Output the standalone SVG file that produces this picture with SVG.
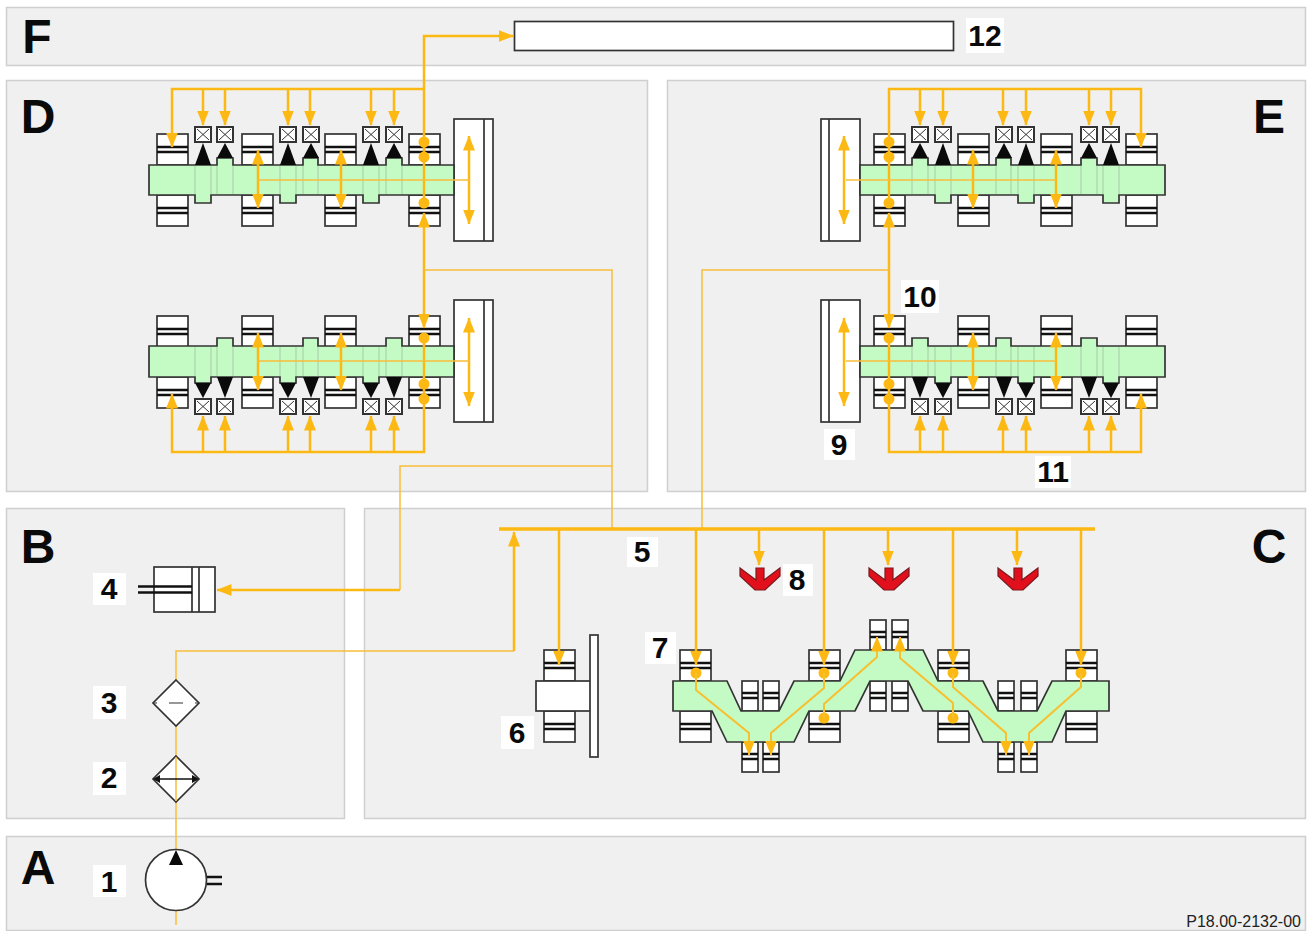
<svg xmlns="http://www.w3.org/2000/svg" width="1307" height="931" viewBox="0 0 1307 931">
<style>
.panel{fill:#f0f0f0;stroke:#cfcfcf;stroke-width:1.500}
.s{fill:#fff;stroke:#333;stroke-width:1.700}
.k{stroke:#111;stroke-width:2.500;fill:none}
.shaft{fill:#c4fbc4;stroke:#333;stroke-width:1.700}
.rib{fill:none;stroke:#a8cba8;stroke-width:1}
.tri{fill:#0a0a0a;stroke:none}
.y1{fill:none;stroke:#f7bd3a;stroke-width:1.500}
.y1b{fill:none;stroke:#f7c030;stroke-width:2}
.y2{fill:none;stroke:#fdb913;stroke-width:2.500}
.y3{fill:none;stroke:#fdb913;stroke-width:3.500}
.ya{marker-end:url(#ah)}
.yb{marker-start:url(#ah);marker-end:url(#ah)}
.dot{fill:#fdb913}
.red{fill:#e2101c;stroke:#7a1a1e;stroke-width:1.200}
.lb{fill:#fff}
text{font-family:"Liberation Sans",Arial,sans-serif;font-weight:700;fill:#0a0a0a;text-anchor:middle}
.n{font-size:30px}
.L{font-size:48px}
.c{font-size:16px;font-weight:400;text-anchor:end;fill:#222}
</style>
<defs>
<marker id="ah" markerUnits="userSpaceOnUse" markerWidth="17" markerHeight="14" refX="14.500" refY="7" orient="auto-start-reverse"><path d="M0 1L15 7L0 13Z" fill="#fdb913"/></marker>
<g id="bb"><rect class="s" width="31" height="31"/><path class="k" d="M0 13H31M0 18H31"/></g>
<g id="sb"><rect class="s" width="16" height="30"/><path class="k" d="M0 12H16M0 17H16"/></g>
<g id="box"><rect class="s" width="16" height="15" style="stroke-width:2"/><path d="M2 2L14 13M14 2L2 13" stroke="#333" stroke-width="1" fill="none"/></g>
<g id="tt"><path class="tri" d="M0 22L8 0L16 22Z"/></g>
<g id="ts"><path class="tri" d="M0 15L8 0L16 15Z"/></g>
<g id="tT"><path class="tri" d="M0 0L8 21L16 0Z"/></g>
<g id="tS"><path class="tri" d="M0 0L8 15L16 0Z"/></g>
<g id="red"><path class="red" d="M-20 568L-4 580V568H4V580L20 568V576L5 590H-5L-20 576Z"/></g>
</defs>
<rect width="1307" height="931" fill="#fff"/>
<g id="panels">
<rect class="panel" x="6.500" y="7.500" width="1299" height="58"/>
<rect class="panel" x="6.500" y="80.500" width="641" height="411"/>
<rect class="panel" x="667.500" y="80.500" width="638" height="411"/>
<rect class="panel" x="6.500" y="508.500" width="338" height="310"/>
<rect class="panel" x="364.500" y="508.500" width="941" height="310"/>
<rect class="panel" x="6.500" y="836.500" width="1299" height="94"/>
<text class="L" x="37" y="53">F</text>
<text class="L" x="38" y="133">D</text>
<text class="L" x="1269" y="133">E</text>
<text class="L" x="38" y="563">B</text>
<text class="L" x="1269" y="563">C</text>
<text class="L" x="38" y="884">A</text>
</g>
<g id="bar12"><rect class="s" x="514.500" y="21.500" width="439" height="29"/></g>
<g id="camD1">
<use href="#bb" x="157" y="134"/><use href="#bb" x="242" y="134"/><use href="#bb" x="325" y="134"/><use href="#bb" x="409" y="134"/>
<use href="#bb" x="157" y="195"/><use href="#bb" x="242" y="195"/><use href="#bb" x="325" y="195"/><use href="#bb" x="409" y="195"/>
<rect class="s" x="454" y="119" width="39" height="122"/><path class="s" d="M484 119V241"/>
<path class="shaft" d="M149 165H217V158H233V165H303V158H318V165H386V158H402V165H454V195H379V203H363V195H296V203H280V195H211V203H195V195H149Z"/>
<path class="rib" d="M195 166V194M211 166V194M217 166V194M233 166V194M280 166V194M296 166V194M303 166V194M318 166V194M363 166V194M379 166V194M386 166V194M402 166V194"/>
<use href="#box" x="195" y="127"/><use href="#box" x="217" y="127"/><use href="#box" x="280" y="127"/><use href="#box" x="303" y="127"/><use href="#box" x="363" y="127"/><use href="#box" x="386" y="127"/>
<use href="#tt" x="195" y="143"/><use href="#ts" x="217" y="143"/><use href="#tt" x="280" y="143"/><use href="#ts" x="303" y="143"/><use href="#tt" x="363" y="143"/><use href="#ts" x="386" y="143"/>
</g>
<g id="camD2">
<use href="#bb" x="157" y="316"/><use href="#bb" x="242" y="316"/><use href="#bb" x="325" y="316"/><use href="#bb" x="409" y="316"/>
<use href="#bb" x="157" y="377"/><use href="#bb" x="242" y="377"/><use href="#bb" x="325" y="377"/><use href="#bb" x="409" y="377"/>
<rect class="s" x="454" y="300" width="39" height="122"/><path class="s" d="M484 300V422"/>
<path class="shaft" d="M149 346H217V338H233V346H303V338H318V346H386V338H402V346H454V377H379V383H363V377H296V383H280V377H211V383H195V377H149Z"/>
<path class="rib" d="M195 347V376M211 347V376M217 347V376M233 347V376M280 347V376M296 347V376M303 347V376M318 347V376M363 347V376M379 347V376M386 347V376M402 347V376"/>
<use href="#box" x="195" y="399"/><use href="#box" x="217" y="399"/><use href="#box" x="280" y="399"/><use href="#box" x="303" y="399"/><use href="#box" x="363" y="399"/><use href="#box" x="386" y="399"/>
<use href="#tS" x="195" y="383"/><use href="#tT" x="217" y="377"/><use href="#tS" x="280" y="383"/><use href="#tT" x="303" y="377"/><use href="#tS" x="363" y="383"/><use href="#tT" x="386" y="377"/>
</g>
<g id="camE1">
<use href="#bb" x="874" y="134"/><use href="#bb" x="958" y="134"/><use href="#bb" x="1041" y="134"/><use href="#bb" x="1126" y="134"/>
<use href="#bb" x="874" y="195"/><use href="#bb" x="958" y="195"/><use href="#bb" x="1041" y="195"/><use href="#bb" x="1126" y="195"/>
<rect class="s" x="821" y="119" width="39" height="122"/><path class="s" d="M829 119V241"/>
<path class="shaft" d="M860 165H912V158H928V165H996V158H1011V165H1081V158H1097V165H1165V195H1119V203H1103V195H1034V203H1018V195H951V203H935V195H860Z"/>
<path class="rib" d="M912 166V194M928 166V194M935 166V194M951 166V194M996 166V194M1011 166V194M1018 166V194M1034 166V194M1081 166V194M1097 166V194M1103 166V194M1119 166V194"/>
<use href="#box" x="912" y="127"/><use href="#box" x="935" y="127"/><use href="#box" x="996" y="127"/><use href="#box" x="1018" y="127"/><use href="#box" x="1081" y="127"/><use href="#box" x="1103" y="127"/>
<use href="#ts" x="912" y="143"/><use href="#tt" x="935" y="143"/><use href="#ts" x="996" y="143"/><use href="#tt" x="1018" y="143"/><use href="#ts" x="1081" y="143"/><use href="#tt" x="1103" y="143"/>
</g>
<g id="camE2">
<use href="#bb" x="874" y="316"/><use href="#bb" x="958" y="316"/><use href="#bb" x="1041" y="316"/><use href="#bb" x="1126" y="316"/>
<use href="#bb" x="874" y="377"/><use href="#bb" x="958" y="377"/><use href="#bb" x="1041" y="377"/><use href="#bb" x="1126" y="377"/>
<rect class="s" x="821" y="300" width="39" height="122"/><path class="s" d="M829 300V422"/>
<path class="shaft" d="M860 346H912V338H928V346H996V338H1011V346H1081V338H1097V346H1165V377H1119V383H1103V377H1034V383H1018V377H951V383H935V377H860Z"/>
<path class="rib" d="M912 347V376M928 347V376M935 347V376M951 347V376M996 347V376M1011 347V376M1018 347V376M1034 347V376M1081 347V376M1097 347V376M1103 347V376M1119 347V376"/>
<use href="#box" x="912" y="399"/><use href="#box" x="935" y="399"/><use href="#box" x="996" y="399"/><use href="#box" x="1018" y="399"/><use href="#box" x="1081" y="399"/><use href="#box" x="1103" y="399"/>
<use href="#tT" x="912" y="377"/><use href="#tS" x="935" y="383"/><use href="#tT" x="996" y="377"/><use href="#tS" x="1018" y="383"/><use href="#tT" x="1081" y="377"/><use href="#tS" x="1103" y="383"/>
</g>
<g id="cylinder4">
<rect class="s" x="154" y="567" width="61" height="45"/>
<path class="s" d="M192 567V612M199 567V612"/>
<path class="k" d="M138 586.500H192M138 592.500H192"/>
</g>
<g id="unit6">
<use href="#bb" x="544" y="650"/><use href="#bb" x="544" y="711"/>
<rect class="s" x="536" y="681" width="55" height="30"/>
<rect class="s" x="590" y="635" width="8" height="122"/>
</g>
<g id="cam7">
<use href="#bb" x="680" y="650"/><use href="#bb" x="809" y="650"/><use href="#bb" x="938" y="650"/><use href="#bb" x="1066" y="650"/>
<use href="#bb" x="680" y="711"/><use href="#bb" x="809" y="711"/><use href="#bb" x="938" y="711"/><use href="#bb" x="1066" y="711"/>
<use href="#sb" x="742" y="681"/><use href="#sb" x="763" y="681"/><use href="#sb" x="742" y="742"/><use href="#sb" x="763" y="742"/>
<use href="#sb" x="870" y="620"/><use href="#sb" x="892" y="620"/><use href="#sb" x="870" y="681"/><use href="#sb" x="892" y="681"/>
<use href="#sb" x="998" y="681"/><use href="#sb" x="1021" y="681"/><use href="#sb" x="998" y="742"/><use href="#sb" x="1021" y="742"/>
<path class="shaft" d="M673 681H727L741 711H779L794 681H840L855 650H923L938 681H983L998 711H1037L1052 681H1109V711H1066L1052 742H983L968 711H923L908 681H870L855 711H809L794 742H727L712 711H673Z"/>
</g>
<g id="jet8a"><use href="#red" x="760"/></g>
<g id="jet8b"><use href="#red" x="889"/></g>
<g id="jet8c"><use href="#red" x="1018"/></g>
<g id="connectors">
<path class="y2 ya" d="M424 203V36H513"/>
<path class="y2 ya" d="M424 89H172V147"/>
<path class="y2 ya" d="M203 89V125"/><path class="y2 ya" d="M225 89V125"/><path class="y2 ya" d="M288 89V125"/><path class="y2 ya" d="M310 89V125"/><path class="y2 ya" d="M371 89V125"/><path class="y2 ya" d="M394 89V125"/>
<path class="y2 ya" d="M424 270V213"/><path class="y2 ya" d="M424 270V328"/>
<path class="y2 ya" d="M424 338V452H172V394"/>
<path class="y2 ya" d="M203 452V416"/><path class="y2 ya" d="M225 452V416"/><path class="y2 ya" d="M288 452V416"/><path class="y2 ya" d="M310 452V416"/><path class="y2 ya" d="M371 452V416"/><path class="y2 ya" d="M394 452V416"/>
<path class="y2 yb" d="M258 150V208"/><path class="y2 yb" d="M341 150V208"/><path class="y2 yb" d="M469 136V224"/>
<path class="y2 yb" d="M258 333V390"/><path class="y2 yb" d="M341 333V390"/><path class="y2 yb" d="M469 318V406"/>
<path class="y1" d="M258 180H469M258 361H469"/>
<path class="y2 ya" d="M889 203V89H1141V147"/>
<path class="y2 ya" d="M920 89V125"/><path class="y2 ya" d="M943 89V125"/><path class="y2 ya" d="M1003 89V125"/><path class="y2 ya" d="M1026 89V125"/><path class="y2 ya" d="M1089 89V125"/><path class="y2 ya" d="M1111 89V125"/>
<path class="y2 ya" d="M889 270V213"/><path class="y2 ya" d="M889 270V328"/>
<path class="y2 ya" d="M889 338V452H1141V394"/>
<path class="y2 ya" d="M920 452V416"/><path class="y2 ya" d="M943 452V416"/><path class="y2 ya" d="M1003 452V416"/><path class="y2 ya" d="M1026 452V416"/><path class="y2 ya" d="M1089 452V416"/><path class="y2 ya" d="M1111 452V416"/>
<path class="y2 yb" d="M973 150V208"/><path class="y2 yb" d="M1056 150V208"/><path class="y2 yb" d="M844 136V224"/>
<path class="y2 yb" d="M973 333V390"/><path class="y2 yb" d="M1056 333V390"/><path class="y2 yb" d="M844 318V406"/>
<path class="y1" d="M846 180H1056M846 361H1056"/>
<g class="dot">
<circle cx="424" cy="142" r="5.500"/><circle cx="424" cy="157" r="5.500"/><circle cx="424" cy="203" r="5.500"/><circle cx="424" cy="338" r="5.500"/><circle cx="424" cy="384" r="5.500"/><circle cx="424" cy="399" r="5.500"/>
<circle cx="889" cy="142" r="5.500"/><circle cx="889" cy="157" r="5.500"/><circle cx="889" cy="203" r="5.500"/><circle cx="889" cy="338" r="5.500"/><circle cx="889" cy="384" r="5.500"/><circle cx="889" cy="399" r="5.500"/>
<circle cx="696" cy="673" r="5.500"/><circle cx="824" cy="673" r="5.500"/><circle cx="953" cy="673" r="5.500"/><circle cx="1081" cy="673" r="5.500"/><circle cx="824" cy="718" r="5.500"/><circle cx="953" cy="718" r="5.500"/>
</g>
<path class="y1" d="M612 529V270H424"/>
<path class="y1" d="M612 466H400V590"/>
<path class="y2 ya" d="M400 590H217"/>
<path class="y1" d="M702 529V270H889"/>
<path class="y3" d="M499 529H1095"/>
<path class="y1" d="M176 925V911M176 726V850M176 680V651H514"/>
<path class="y2 ya" d="M514 651V532"/>
<path class="y2 ya" d="M559 529V665"/>
<path class="y2 ya" d="M696 529V665"/><path class="y2 ya" d="M824 529V665"/><path class="y2 ya" d="M953 529V665"/><path class="y2 ya" d="M1081 529V665"/>
<path class="y2 ya" d="M759 529V565"/><path class="y2 ya" d="M888 529V565"/><path class="y2 ya" d="M1017 529V565"/>
<path class="y1b ya" d="M696 673V690L749 733V755"/>
<path class="y1b ya" d="M824 673V688L771 733V755"/>
<path class="y1b ya" d="M824 718V704L877 657V637"/>
<path class="y1b ya" d="M953 718V703L900 658V637"/>
<path class="y1b ya" d="M953 673V687L1006 733V755"/>
<path class="y1b ya" d="M1081 673V687L1029 733V755"/>
</g>
<g id="filter3">
<path class="s" d="M176 680L199 703L176 726L153 703Z"/>
<path d="M169 703H183M153 703H157M195 703H199" stroke="#333" stroke-width="1.200" fill="none"/>
</g>
<g id="cooler2">
<path class="s" d="M176 756L199 779L176 802L153 779Z" style="fill:#fff"/>
<path class="y1" d="M176 757V801"/>
<path d="M155 779H197" stroke="#111" stroke-width="1.500" fill="none"/>
<path d="M153 779L160 775V783ZM199 779L192 775V783Z" fill="#111"/>
</g>
<g id="pump1">
<circle class="s" cx="176" cy="880" r="30.500"/>
<path class="k" d="M207 877H222M207 884H222"/>
<path d="M176 850L183 865H169Z" fill="#0a0a0a"/>
</g>
<g id="labels">
<rect class="lb" x="966" y="18" width="38" height="35"/><text class="n" x="985" y="46">12</text>
<rect class="lb" x="93" y="573" width="33" height="32"/><text class="n" x="109" y="599">4</text>
<rect class="lb" x="93" y="686" width="33" height="33"/><text class="n" x="109" y="713">3</text>
<rect class="lb" x="93" y="762" width="33" height="33"/><text class="n" x="109" y="788">2</text>
<rect class="lb" x="93" y="865" width="33" height="32"/><text class="n" x="109" y="892">1</text>
<rect class="lb" x="627" y="537" width="31" height="30"/><text class="n" x="642" y="562">5</text>
<rect class="lb" x="501" y="716" width="33" height="33"/><text class="n" x="517" y="743">6</text>
<rect class="lb" x="645" y="632" width="31" height="32"/><text class="n" x="660" y="658">7</text>
<rect class="lb" x="783" y="564" width="30" height="32"/><text class="n" x="797" y="590">8</text>
<rect class="lb" x="824" y="429" width="31" height="31"/><text class="n" x="839" y="455">9</text>
<rect class="lb" x="901" y="280" width="38" height="33"/><text class="n" x="920" y="307">10</text>
<rect class="lb" x="1035" y="456" width="36" height="32"/><text class="n" x="1053" y="482">11</text>
<text class="c" x="1301" y="927">P18.00-2132-00</text>
</g>
</svg>
